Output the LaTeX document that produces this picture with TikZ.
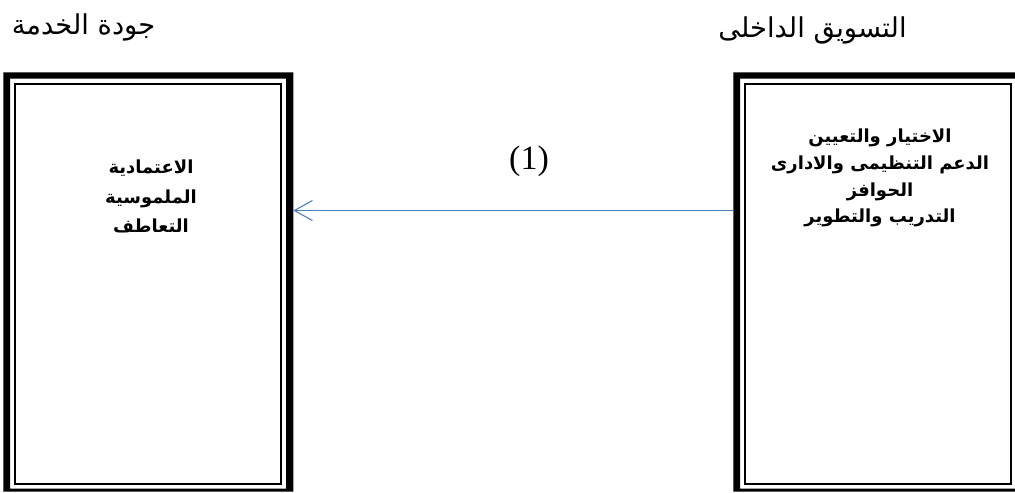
\documentclass[tikz,border=0pt]{standalone}
\usepackage{fontspec}
\setmainfont{Liberation Serif}
\newfontfamily\arabicfont[Script=Arabic]{DejaVu Sans}
\TeXXeTstate=1
\usetikzlibrary{arrows.meta}
\definecolor{linkblue}{RGB}{74,126,187}

\tikzset{
  framebox/.style={minimum width=217.5pt,minimum height=314.4pt,inner sep=0pt,outer sep=0pt},
  titletext/.style={font=\arabicfont\fontsize{20.5}{24}\selectfont,inner sep=0pt},
  itemtext/.style={font=\arabicfont\bfseries\fontsize{13.5}{20}\selectfont,align=center,inner sep=0pt,anchor=north},
  link/.style={-{Straight Barb[length=13.5pt,width=15pt]},linkblue,line width=0.8pt}
}

\begin{document}
\begin{tikzpicture}[x=0.75pt,y=-0.75pt]
        \useasboundingbox (0,0) rectangle (1015,493);
        \clip (0,0) rectangle (1015,493);
        % the two boxes
        \node[framebox] (quality) at (148.3,281.9) {};
        \node[framebox] (marketing) at (878.3,281.9) {};
        \foreach \b in {quality,marketing} {
            \fill[even odd rule] (\b.north west) rectangle (\b.south east)
                ([shift={(6.7,6.4)}]\b.north west) rectangle ([shift={(-7.3,-3)}]\b.south east);
            \draw[line width=1.5pt] ([shift={(12,12)}]\b.north west) rectangle ([shift={(-12.3,-7.2)}]\b.south east);
        }
        % titles
        \node[titletext] (qualitytitle) at (83.5,27) {\beginR جودة الخدمة\endR};
        \node[titletext] (marketingtitle) at (812.5,30) {\beginR التسويق الداخلى\endR};
        % contents
        \node[itemtext,font=\arabicfont\bfseries\fontsize{13.5}{22}\selectfont] (qualityitems) at (151,160) {\beginR الاعتمادية\endR\\ \beginR الملموسية\endR\\ \beginR التعاطف\endR};
        \node[itemtext] (marketingitems) at (880,129) {\beginR الاختيار والتعيين\endR\\ \beginR الدعم التنظيمى والادارى\endR\\ \beginR الحوافز\endR\\ \beginR التدريب والتطوير\endR};
        % relation
        \coordinate (linky) at (0,210.5);
        \draw[link] (marketing.west |- linky) -- (quality.east |- linky);
        \node[font=\fontsize{25.5}{30}\selectfont,inner sep=0pt] (linklabel) at (529,161.5) {(1)};
\end{tikzpicture}
\end{document}
